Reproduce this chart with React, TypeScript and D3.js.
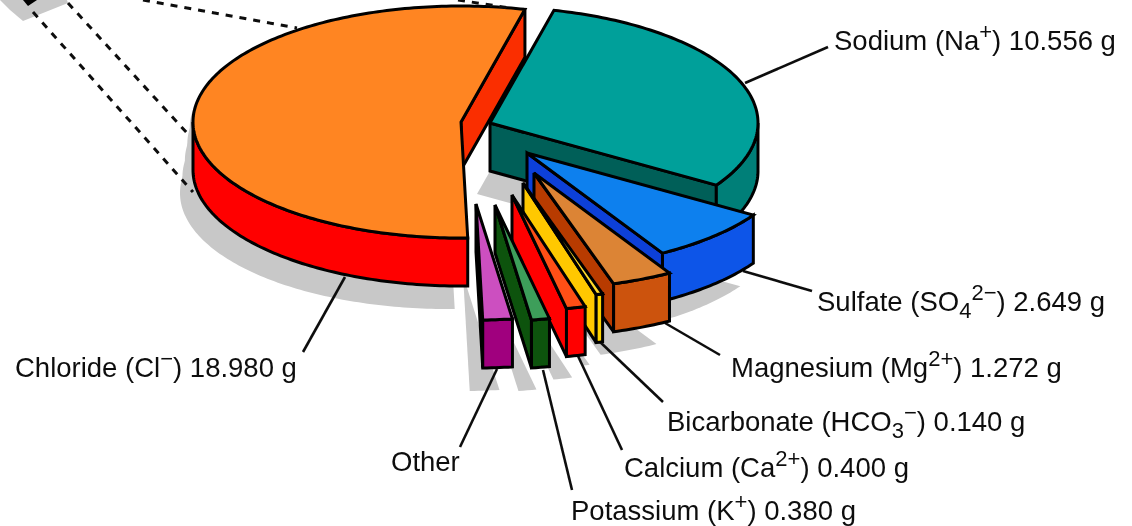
import React from "react";
import * as d3 from "d3";

const names = ["Sodium", "Sulfate", "Magnesium", "Bicarbonate", "Calcium", "Potassium", "Other", "Chloride"];
const grams = [10.556, 2.649, 1.272, 0.14, 0.4, 0.38, 0.62, 18.98];
const topColors = ["#00a09a", "#0d80ee", "#dc8434", "#ffd92a", "#ff4f14", "#3c9e5a", "#cc50c0", "#ff8522"];
const cutColors = ["#005f58", "#0a3fd8", "#b83a06", "#ffc800", "#ff0000", "#0a520a", "#a0007e", "#fa2e06"];
const rimColors = ["#007f78", "#0a55e8", "#cc5208", "#ffd400", "#ff0000", "#0a520a", "#a0007e", "#ff0000"];
const apexes: [number, number][] = [[490, 123], [527, 153], [534, 173], [523, 183], [512, 195], [495, 205], [476, 204], [461, 122]];
const drawOrder = [7, 0, 1, 2, 3, 4, 5, 6];

type Run = [string, "" | "sup" | "sub"];
const labelRuns: Run[][] = [
  [["Sodium (Na", ""], ["+", "sup"], [") 10.556 g", ""]],
  [["Sulfate (SO", ""], ["4", "sub"], ["2\u2212", "sup"], [") 2.649 g", ""]],
  [["Magnesium (Mg", ""], ["2+", "sup"], [") 1.272 g", ""]],
  [["Bicarbonate (HCO", ""], ["3", "sub"], ["\u2212", "sup"], [") 0.140 g", ""]],
  [["Calcium (Ca", ""], ["2+", "sup"], [") 0.400 g", ""]],
  [["Potassium (K", ""], ["+", "sup"], [") 0.380 g", ""]],
  [["Other", ""]],
  [["Chloride (Cl", ""], ["\u2212", "sup"], [") 18.980 g", ""]],
];
const labelPos: [number, number][] = [[834, 50], [817, 311], [731, 377], [667, 431], [624, 477], [571, 520], [391, 471], [15, 377]];
const leaders: [number, number, number, number][] = [
  [745, 83, 828, 47], [743, 271, 812, 291], [665, 323, 720, 355], [598, 340, 663, 402],
  [578, 356, 622, 450], [543, 370, 572, 490], [497, 369, 460, 447], [345, 277, 303, 352],
];
const dashed: [number, number, number, number][] = [
  [68, 3, 187, 133], [33, 12, 193, 192], [143, 0, 297, 28], [458, 0, 510, 8],
];

const W = 1132, H = 526, RX = 268, RY = 116, DEPTH = 48;
const sx = d3.scaleLinear().domain([-1, 1]).range([-RX, RX]);
const sy = d3.scaleLinear().domain([-1, 1]).range([RY, -RY]);
const rad = (d: number) => (d * Math.PI) / 180;

const pieGen = d3.pie<number>().sort(null).value((d) => d).startAngle(rad(13.8)).endAngle(rad(373.8));
const arcs = pieGen(grams);
const lineGen = d3.line<[number, number]>();

function arcPts(i: number, a0: number, a1: number, dy = 0, ox = 0, oy = 0): [number, number][] {
  const [ax, ay] = apexes[i];
  const n = Math.max(2, Math.ceil(Math.abs(a1 - a0) / rad(1)));
  return d3.range(n + 1).map((k) => {
    const t = a0 + ((a1 - a0) * k) / n;
    return [ax + ox + sx(Math.sin(t)), ay + oy + dy + sy(Math.cos(t))] as [number, number];
  });
}
function wedgeD(i: number, dy = 0, ox = 0, oy = 0) {
  const a = arcs[i];
  const [ax, ay] = apexes[i];
  return lineGen([[ax + ox, ay + oy + dy], ...arcPts(i, a.startAngle, a.endAngle, dy, ox, oy)]) + "Z";
}
function rimD(i: number) {
  const a = arcs[i];
  const lo = Math.max(a.startAngle, rad(90));
  const hi = Math.min(a.endAngle, rad(270));
  const top = arcPts(i, lo, hi);
  const bot = arcPts(i, hi, lo, DEPTH);
  return lineGen([...top, ...bot]) + "Z";
}
function cutD(i: number) {
  const t = arcs[i].endAngle;
  const [ax, ay] = apexes[i];
  const ex = ax + sx(Math.sin(t));
  const ey = ay + sy(Math.cos(t));
  return lineGen([[ax, ay], [ex, ey], [ex, ey + DEPTH], [ax, ay + DEPTH]]) + "Z";
}

const sweepFractions = [0, 0.25, 0.5, 0.75];
const SHADOW_X = -13, SHADOW_Y = 23;

export default function App() {
  return (
    <svg width={W} height={H} viewBox={`0 0 ${W} ${H}`}
      style={{ position: "absolute", left: 0, top: 0, background: "#fff" }}>
      <defs>
        <filter id="soft" x="-2%" y="-2%" width="104%" height="104%">
          <feGaussianBlur stdDeviation="0.7" />
        </filter>
        <clipPath id="leftOnly"><rect x={0} y={0} width={300} height={H} /></clipPath>
      </defs>
      <g filter="url(#soft)">
        <path d="M0 0 L10 10 L23 21 L68 3 L67 0 Z" fill="#c8c8c8" />
        <g clipPath="url(#leftOnly)">
          {sweepFractions.map((f) => (
            <path key={`sw${f}`} d={wedgeD(7, DEPTH * f, SHADOW_X * (0.25 + 0.75 * f), SHADOW_Y * (0.25 + 0.75 * f))} fill="#c8c8c8" />
          ))}
        </g>
        {drawOrder.map((i) => (
          <path key={`s${i}`} d={wedgeD(i, DEPTH, SHADOW_X, SHADOW_Y)} fill="#c8c8c8" />
        ))}
        <path d="M23 0 L37 0 L28 6 Z" fill="#000" />
        {leaders.map((l, i) => (
          <line key={`l${i}`} x1={l[0]} y1={l[1]} x2={l[2]} y2={l[3]} stroke="#111" strokeWidth={2.6} />
        ))}
        {drawOrder.map((i) => (
          <g key={names[i]} stroke="#000" strokeWidth={3} strokeLinejoin="miter" strokeMiterlimit={3}>
            <path d={cutD(i)} fill={cutColors[i]} />
            <path d={rimD(i)} fill={rimColors[i]} />
            <path d={wedgeD(i)} fill={topColors[i]} />
          </g>
        ))}
        {dashed.map((l, i) => (
          <line key={`d${i}`} x1={l[0]} y1={l[1]} x2={l[2]} y2={l[3]} stroke="#111" strokeWidth={3} strokeDasharray="7 7" />
        ))}
        {labelRuns.map((runs, i) => {
          let shift = 0;
          return (
            <text key={`t${i}`} x={labelPos[i][0]} y={labelPos[i][1]}
              fontFamily="'Liberation Sans', Arial, sans-serif" fontSize={27.5} fill="#111">
              {runs.map((r, k) => {
                const target = r[1] === "sup" ? -11 : r[1] === "sub" ? 7 : 0;
                const dy = target - shift;
                shift = target;
                return (
                  <tspan key={k} dy={dy} fontSize={r[1] ? 22 : 27.5}>{r[0]}</tspan>
                );
              })}
            </text>
          );
        })}
      </g>
    </svg>
  );
}
